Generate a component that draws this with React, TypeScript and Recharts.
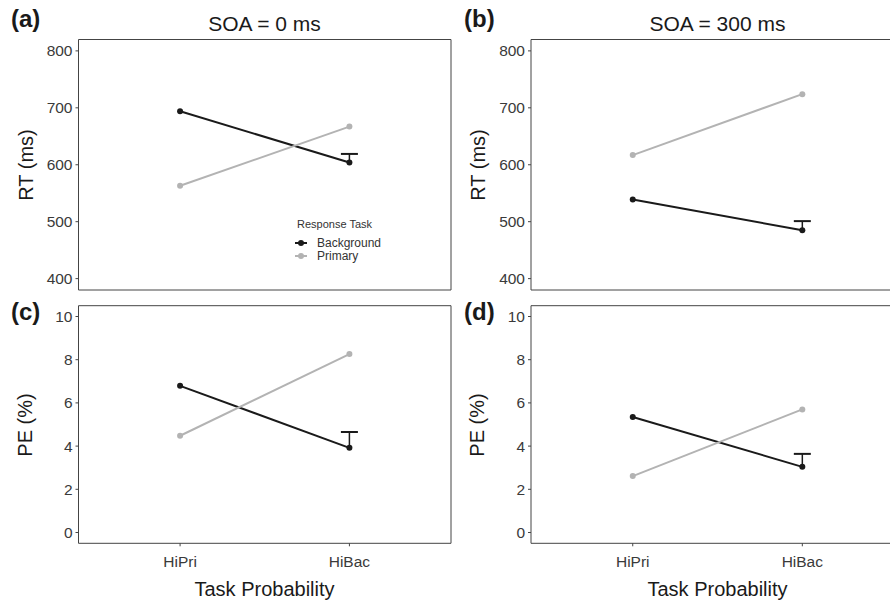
import React from "react";
import { LineChart, Line, XAxis, YAxis, ErrorBar, ReferenceLine, Legend } from "recharts";

// task probability conditions
const categories = ["HiPri", "HiBac"];

// RT (ms), SOA = 0
const rt0Background = [694, 604];
const rt0Primary = [563, 667];
const rt0BackgroundErr = [null, 15];

// RT (ms), SOA = 300
const rt300Background = [539, 485];
const rt300Primary = [617, 724];
const rt300BackgroundErr = [null, 16];

// PE (%), SOA = 0
const pe0Background = [6.79, 3.92];
const pe0Primary = [4.48, 8.26];
const pe0BackgroundErr = [null, 0.73];

// PE (%), SOA = 300
const pe300Background = [5.35, 3.04];
const pe300Primary = [2.61, 5.7];
const pe300BackgroundErr = [null, 0.6];

const rtTicks = [400, 500, 600, 700, 800];
const peTicks = [0, 2, 4, 6, 8, 10];
const rtDomain: [number, number] = [380, 820];
const peDomain: [number, number] = [-0.5, 10.5];
// full x range of a panel, and the part of the right-hand panels that is still inside the figure
const xDomainFull: [number, number] = [0.4, 2.6];
const xDomainCut: [number, number] = [0.4, 2.517];

const FONT = '"Liberation Sans", Arial, Helvetica, sans-serif';
const DARK = "#1a1a1a";
const GREY = "#b3b3b3";
const BORDER = "#444";

type Row = {
  x: number;
  task: string;
  background: number;
  primary: number;
  bgErr: [number, number];
  bgTop: number | null;
};

function buildRows(bg: number[], pr: number[], err: (number | null)[]): Row[] {
  return categories.map((c, i) => {
    const e = err[i];
    return {
      x: i + 1,
      task: c,
      background: bg[i],
      primary: pr[i],
      bgErr: e == null ? [0, 0] : [0, e],
      bgTop: e == null ? null : bg[i] + e,
    };
  });
}

const capDot = (props: any) => {
  const { cx, cy, index, value } = props;
  if (value == null || cy == null || Number.isNaN(cy)) return <g key={`cap-${index}`} />;
  return (
    <line key={`cap-${index}`} x1={cx - 8.5} x2={cx + 8.5} y1={cy} y2={cy} stroke={DARK} strokeWidth={2} />
  );
};

const renderLegend = (props: any) => {
  const items = (props.payload || []).filter((p: any) => p.type !== "none");
  return (
    <div style={{ fontFamily: FONT, color: "#333" }}>
      <div style={{ fontSize: 11, lineHeight: "14px", marginLeft: 2 }}>Response Task</div>
      <div style={{ height: 6 }} />
      {items.map((p: any) => (
        <div key={p.value} style={{ display: "flex", alignItems: "center", height: 12.5, fontSize: 12 }}>
          <svg width={12} height={8} style={{ display: "block" }}>
            <line x1={0} x2={12} y1={4} y2={4} stroke={p.color} strokeWidth={2} />
            <circle cx={6} cy={4} r={3} fill={p.color} />
          </svg>
          <span style={{ marginLeft: 10 }}>{p.value}</span>
        </div>
      ))}
    </div>
  );
};

type PanelProps = {
  left: number;
  top: number;
  width: number;
  height: number;
  yAxisWidth: number;
  marginTop: number;
  marginRight: number;
  xAxisHeight: number;
  showXLabels: boolean;
  xDomain: [number, number];
  yDomain: [number, number];
  yTicks: number[];
  rows: Row[];
  legend?: boolean;
  closed?: boolean; // full box (left panels) vs. box cut off by the figure edge
};

function Panel(p: PanelProps) {
  const borderLine = { stroke: BORDER, strokeWidth: 1 };
  return (
    <div style={{ position: "absolute", left: p.left, top: p.top }}>
      <LineChart
        width={p.width}
        height={p.height}
        data={p.rows}
        margin={{ top: p.closed ? p.marginTop : p.marginTop - 1, right: p.marginRight, bottom: 0, left: 0 }}
        style={{ fontFamily: FONT }}
      >
        <XAxis
          dataKey="x"
          type="number"
          domain={p.xDomain}
          ticks={[1, 2]}
          tickFormatter={(v: number) => categories[v - 1]}
          height={p.xAxisHeight}
          axisLine={borderLine}
          tickLine={{ stroke: BORDER }}
          tickSize={3}
          tickMargin={10}
          tick={p.showXLabels ? { fontSize: 15.5, fill: "#3a3a3a", fontFamily: FONT } : false}
          allowDataOverflow
        />
        {!p.closed && (
          <XAxis
            xAxisId="top"
            orientation="top"
            type="number"
            domain={p.xDomain}
            height={1}
            tick={false}
            tickLine={false}
            axisLine={borderLine}
          />
        )}
        <YAxis
          type="number"
          domain={p.yDomain}
          ticks={p.yTicks}
          width={p.yAxisWidth}
          axisLine={borderLine}
          tickLine={{ stroke: BORDER }}
          tickSize={3}
          tickMargin={3}
          tick={{ fontSize: 15.5, fill: "#3a3a3a", fontFamily: FONT }}
          interval={0}
        />
        {p.closed && <ReferenceLine y={p.yDomain[1]} {...borderLine} />}
        {p.closed && <ReferenceLine x={p.xDomain[1]} {...borderLine} />}
        <Line
          dataKey="background"
          name="Background"
          stroke={DARK}
          strokeWidth={2}
          dot={{ r: 3, fill: DARK, stroke: DARK, strokeWidth: 0 }}
          activeDot={false}
          isAnimationActive={false}
        >
          <ErrorBar dataKey="bgErr" direction="y" width={0} stroke={DARK} strokeWidth={1.5} />
        </Line>
        <Line
          dataKey="primary"
          name="Primary"
          stroke={GREY}
          strokeWidth={2}
          dot={{ r: 3, fill: GREY, stroke: GREY, strokeWidth: 0 }}
          activeDot={false}
          isAnimationActive={false}
        />
        <Line
          dataKey="bgTop"
          stroke="none"
          legendType="none"
          dot={capDot}
          activeDot={false}
          isAnimationActive={false}
        />
        {p.legend && (
          <Legend
            layout="horizontal"
            verticalAlign="middle"
            align="center"
            content={renderLegend}
            wrapperStyle={{ left: 295, top: 217, width: 110, height: 48 }}
          />
        )}
      </LineChart>
    </div>
  );
}

const textBase: React.CSSProperties = {
  position: "absolute",
  whiteSpace: "nowrap",
  lineHeight: 1,
  fontFamily: FONT,
};

function Centered({ x, y, size, text, rotate, color = "#1a1a1a" }: any) {
  return (
    <div
      style={{
        ...textBase,
        left: x,
        top: y,
        fontSize: size,
        color,
        transform: `translate(-50%, -50%)${rotate ? " rotate(-90deg)" : ""}`,
      }}
    >
      {text}
    </div>
  );
}

function Tag({ x, y, text }: any) {
  return (
    <div style={{ ...textBase, left: x, top: y, fontSize: 24, fontWeight: "bold", color: "#1a1a1a" }}>{text}</div>
  );
}

export default function App() {
  return (
    <div
      style={{
        position: "absolute",
        left: 0,
        top: 0,
        width: 890,
        height: 602,
        overflow: "hidden",
        background: "#fff",
      }}
    >
      <Panel
        left={0}
        top={0}
        width={460}
        height={300}
        yAxisWidth={78.5}
        marginTop={39.5}
        marginRight={9}
        xAxisHeight={10}
        showXLabels={false}
        xDomain={xDomainFull}
        yDomain={rtDomain}
        yTicks={rtTicks}
        rows={buildRows(rt0Background, rt0Primary, rt0BackgroundErr)}
        legend
        closed
      />
      <Panel
        left={440}
        top={0}
        width={450}
        height={300}
        yAxisWidth={91}
        marginTop={39.5}
        marginRight={0}
        xAxisHeight={10}
        showXLabels={false}
        xDomain={xDomainCut}
        yDomain={rtDomain}
        yTicks={rtTicks}
        rows={buildRows(rt300Background, rt300Primary, rt300BackgroundErr)}
      />
      <Panel
        left={0}
        top={300}
        width={460}
        height={302}
        yAxisWidth={78.5}
        marginTop={5.7}
        marginRight={9}
        xAxisHeight={58.7}
        showXLabels
        xDomain={xDomainFull}
        yDomain={peDomain}
        yTicks={peTicks}
        rows={buildRows(pe0Background, pe0Primary, pe0BackgroundErr)}
        closed
      />
      <Panel
        left={440}
        top={300}
        width={450}
        height={302}
        yAxisWidth={91}
        marginTop={5.7}
        marginRight={0}
        xAxisHeight={58.7}
        showXLabels
        xDomain={xDomainCut}
        yDomain={peDomain}
        yTicks={peTicks}
        rows={buildRows(pe300Background, pe300Primary, pe300BackgroundErr)}
      />

      <Centered x={264.5} y={22.5} size={21} text="SOA = 0 ms" />
      <Centered x={717.5} y={22.5} size={21} text="SOA = 300 ms" />

      <Centered x={25.8} y={165} size={20} text="RT (ms)" rotate />
      <Centered x={478.2} y={165} size={20} text="RT (ms)" rotate />
      <Centered x={25} y={424.5} size={20} text="PE (%)" rotate />
      <Centered x={477.2} y={424.5} size={20} text="PE (%)" rotate />

      <Centered x={264.5} y={588.5} size={20} text="Task Probability" />
      <Centered x={717.5} y={588.5} size={20} text="Task Probability" />

      <Tag x={11} y={7.4} text="(a)" />
      <Tag x={464} y={7.4} text="(b)" />
      <Tag x={11} y={300.2} text="(c)" />
      <Tag x={464} y={300.2} text="(d)" />
    </div>
  );
}
